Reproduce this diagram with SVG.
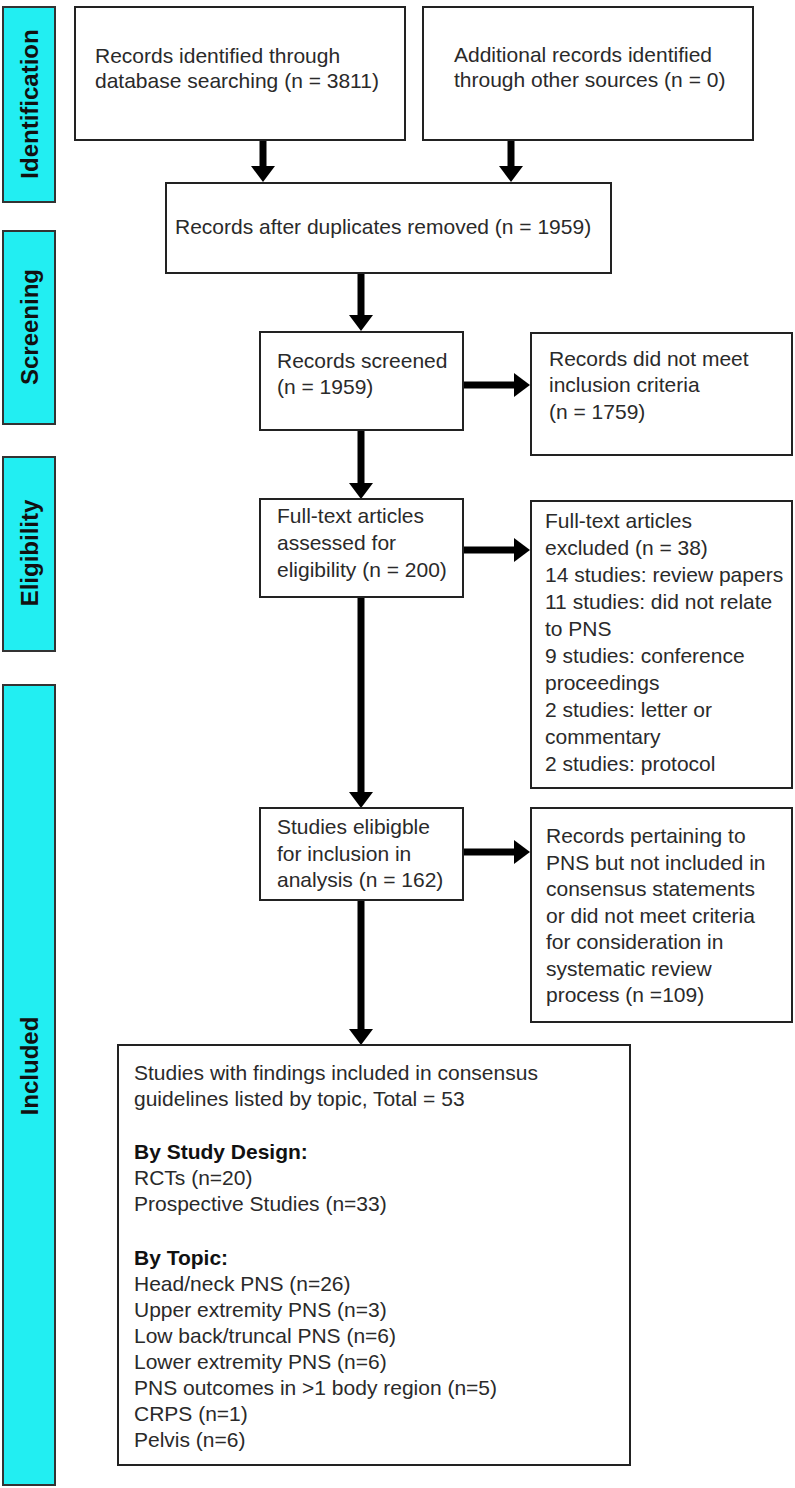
<svg xmlns="http://www.w3.org/2000/svg" width="795" height="1488" viewBox="0 0 795 1488">
<defs>
<style>
.side{fill:#22eef2;stroke:#333;stroke-width:2}
.stage{font-family:"Liberation Sans",Arial,sans-serif;font-size:24px;font-weight:bold;fill:#111;text-anchor:middle}
.box{fill:#fff;stroke:#222;stroke-width:2}
.t{font-family:"Liberation Sans",Arial,sans-serif;font-size:21px;fill:#2a2a2a}
.b{font-weight:bold;fill:#111}
.arr{stroke:#000;stroke-width:7;fill:none;marker-end:url(#head)}
</style>
<marker id="head" viewBox="0 0 16 24" refX="1" refY="12" markerWidth="16" markerHeight="24" markerUnits="userSpaceOnUse" orient="auto">
<path d="M0,0 L16,12 L0,24 z" fill="#000"/>
</marker>
</defs>
<rect width="795" height="1488" fill="#fff"/>

<g id="stage-identification">
<rect class="side" x="3" y="7" width="52" height="195"/>
<text class="stage" transform="translate(38,104) rotate(-90)">Identification</text>
</g>
<g id="stage-screening">
<rect class="side" x="3" y="231" width="52" height="193"/>
<text class="stage" transform="translate(38,327) rotate(-90)">Screening</text>
</g>
<g id="stage-eligibility">
<rect class="side" x="3" y="457" width="52" height="194"/>
<text class="stage" transform="translate(38,553) rotate(-90)">Eligibility</text>
</g>
<g id="stage-included">
<rect class="side" x="3" y="685" width="52" height="800"/>
<text class="stage" transform="translate(38,1066) rotate(-90)">Included</text>
</g>

<g id="connectors">
<line class="arr" x1="263" y1="140" x2="263" y2="167"/>
<line class="arr" x1="511" y1="140" x2="511" y2="167"/>
<line class="arr" x1="361" y1="273" x2="361" y2="316"/>
<line class="arr" x1="463" y1="385" x2="515" y2="385"/>
<line class="arr" x1="361" y1="430" x2="361" y2="484"/>
<line class="arr" x1="463" y1="550" x2="515" y2="550"/>
<line class="arr" x1="361" y1="597" x2="361" y2="793"/>
<line class="arr" x1="463" y1="852" x2="515" y2="852"/>
<line class="arr" x1="361" y1="900" x2="361" y2="1030"/>
</g>

<g id="n-database">
<rect class="box" x="75" y="7" width="330" height="133"/>
<text class="t" x="95" y="63">Records identified through</text>
<text class="t" x="95" y="88">database searching (n = 3811)</text>
</g>
<g id="n-other">
<rect class="box" x="423" y="7" width="330" height="133"/>
<text class="t" x="454" y="62">Additional records identified</text>
<text class="t" x="454" y="87">through other sources (n = 0)</text>
</g>
<g id="n-dedup">
<rect class="box" x="166" y="183" width="445" height="90"/>
<text class="t" x="175" y="234">Records after duplicates removed (n = 1959)</text>
</g>
<g id="n-screened">
<rect class="box" x="260" y="332" width="203" height="98"/>
<text class="t" x="277" y="368">Records screened</text>
<text class="t" x="277" y="394">(n = 1959)</text>
</g>
<g id="n-notmeet">
<rect class="box" x="531" y="333" width="261" height="122"/>
<text class="t" x="549" y="366">Records did not meet</text>
<text class="t" x="549" y="392">inclusion criteria</text>
<text class="t" x="549" y="419">(n = 1759)</text>
</g>
<g id="n-fulltext">
<rect class="box" x="260" y="499" width="203" height="98"/>
<text class="t" x="277" y="523">Full-text articles</text>
<text class="t" x="277" y="550">assessed for</text>
<text class="t" x="277" y="577">eligibility (n = 200)</text>
</g>
<g id="n-excluded">
<rect class="box" x="531" y="501" width="261" height="287"/>
<text class="t" x="545" y="528">Full-text articles</text>
<text class="t" x="545" y="555">excluded (n = 38)</text>
<text class="t" x="545" y="582">14 studies: review papers</text>
<text class="t" x="545" y="609">11 studies: did not relate</text>
<text class="t" x="545" y="636">to PNS</text>
<text class="t" x="545" y="663">9 studies: conference</text>
<text class="t" x="545" y="690">proceedings</text>
<text class="t" x="545" y="717">2 studies: letter or</text>
<text class="t" x="545" y="744">commentary</text>
<text class="t" x="545" y="771">2 studies: protocol</text>
</g>
<g id="n-eligible">
<rect class="box" x="260" y="808" width="203" height="92"/>
<text class="t" x="277" y="834">Studies elibigble</text>
<text class="t" x="277" y="861">for inclusion in</text>
<text class="t" x="277" y="887">analysis (n = 162)</text>
</g>
<g id="n-pertaining">
<rect class="box" x="531" y="808" width="261" height="214"/>
<text class="t" x="546" y="843">Records pertaining to</text>
<text class="t" x="546" y="870">PNS but not included in</text>
<text class="t" x="546" y="896">consensus statements</text>
<text class="t" x="546" y="923">or did not meet criteria</text>
<text class="t" x="546" y="949">for consideration in</text>
<text class="t" x="546" y="976">systematic review</text>
<text class="t" x="546" y="1002">process (n =109)</text>
</g>
<g id="n-final">
<rect class="box" x="118" y="1045" width="512" height="420"/>
<text class="t" x="134" y="1080">Studies with findings included in consensus</text>
<text class="t" x="134" y="1106">guidelines listed by topic, Total = 53</text>
<text class="t b" x="134" y="1159">By Study Design:</text>
<text class="t" x="134" y="1185">RCTs (n=20)</text>
<text class="t" x="134" y="1211">Prospective Studies (n=33)</text>
<text class="t b" x="134" y="1265">By Topic:</text>
<text class="t" x="134" y="1291">Head/neck PNS (n=26)</text>
<text class="t" x="134" y="1317">Upper extremity PNS (n=3)</text>
<text class="t" x="134" y="1343">Low back/truncal PNS (n=6)</text>
<text class="t" x="134" y="1369">Lower extremity PNS (n=6)</text>
<text class="t" x="134" y="1395">PNS outcomes in &gt;1 body region (n=5)</text>
<text class="t" x="134" y="1421">CRPS (n=1)</text>
<text class="t" x="134" y="1447">Pelvis (n=6)</text>
</g>
</svg>
